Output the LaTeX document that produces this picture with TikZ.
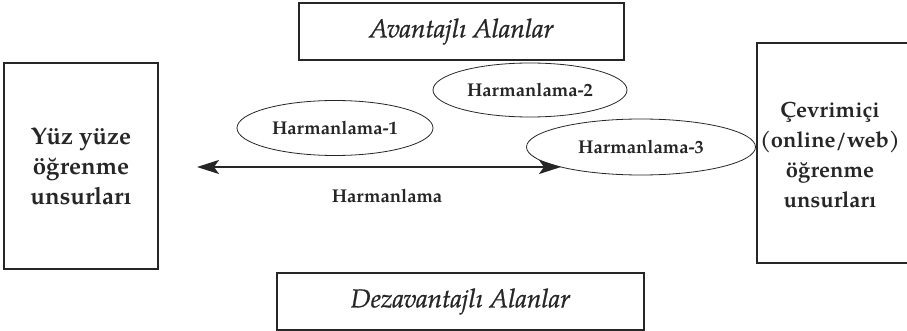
\documentclass[tikz,border=0pt]{standalone}
\usepackage{fontspec}
\setmainfont{texgyrepagella}[Extension=.otf,UprightFont=*-regular,BoldFont=*-bold,ItalicFont=*-italic,BoldItalicFont=*-bolditalic,ItalicFeatures={FakeBold=0.8}]
\usetikzlibrary{arrows.meta,shapes.geometric}
\definecolor{ink}{HTML}{262626}
\begin{document}
\begin{tikzpicture}[x=1pt,y=-1pt,
  bigbox/.style={draw=ink,line width=1.3pt,rectangle,inner sep=0pt,text=ink,align=center,
    font=\fontsize{24}{30}\selectfont\bfseries},
  areabox/.style={draw=ink,line width=1.3pt,rectangle,inner sep=0pt,text=ink,
    font=\fontsize{26}{30}\selectfont\itshape},
  blend/.style={draw=ink,line width=0.8pt,ellipse,inner sep=0pt,text=ink,
    font=\fontsize{18.5}{22}\selectfont\bfseries},
  lbl/.style={text=ink,font=\fontsize{18.5}{22}\selectfont\bfseries}]
\useasboundingbox (0,0) rectangle (907,331);
\node[bigbox,minimum width=154pt,minimum height=206pt] (yuz) at (81,166)
  {Yüz yüze\\öğrenme\\unsurları};
\node[bigbox,minimum width=156pt,minimum height=220pt,font=\fontsize{22}{30}\selectfont\bfseries] (cevrim) at (835,153)
  {};
\node[text=ink,align=center,font=\fontsize{22}{30}\selectfont\bfseries] (cevrimtxt) at (830,155)
  {Çevrimiçi\\(online/web)\\öğrenme\\unsurları};
\node[areabox,minimum width=325pt,minimum height=57pt] (avan) at (461.5,31.5) {Avantajlı Alanlar};
\node[areabox,minimum width=367pt,minimum height=57pt] (dezavan) at (460.5,301.5) {Dezavantajlı Alanlar};
\coordinate (aL) at (197,167);
\coordinate (aR) at (561,167);
\draw[draw=ink,line width=2pt,{Stealth[length=22pt,width=14pt,inset=5pt]}-{Stealth[length=22pt,width=14pt,inset=5pt]}] (aL) -- (aR);
\node[blend,minimum width=196pt,minimum height=55pt] (h1) at (335,128) {Harmanlama-1};
\node[blend,minimum width=194pt,minimum height=54pt] (h2) at (530,90) {Harmanlama-2};
\node[blend,minimum width=229pt,minimum height=56pt] (h3) at (641,147) {Harmanlama-3};
\node[lbl] (harm) at (387,196) {Harmanlama};
\end{tikzpicture}
\end{document}
